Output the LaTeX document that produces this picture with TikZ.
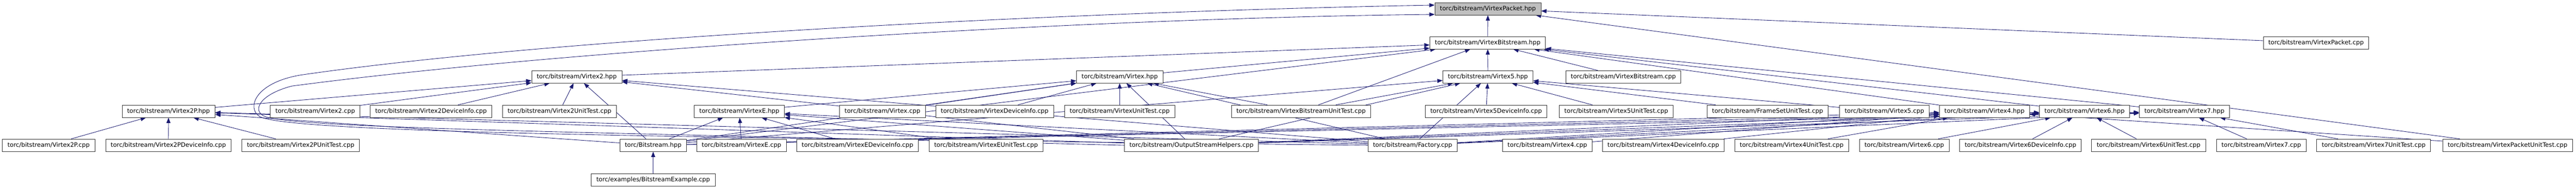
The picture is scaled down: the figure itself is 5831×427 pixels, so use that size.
\documentclass[tikz,border=0pt]{standalone}
\usepackage{fontspec}
\setmainfont{DejaVu Sans}
\usetikzlibrary{arrows.meta,backgrounds}

\begin{document}
\begin{tikzpicture}
		% We need to define the drawing style
		[x=1pt, y=-1pt,
		file/.style={draw=black!80, line width=1pt, fill=white, minimum height=28pt,
			inner xsep=11.5pt, inner ysep=0pt, font=\fontsize{13.7}{16}\selectfont},
		root/.style={file, fill=black!25},
		incl/.style={draw={rgb,255:red,25;green,25;blue,112}, line width=1pt,
			-{Triangle[length=12pt,width=9pt]}}]

		\useasboundingbox (0,0) rectangle (5831,427);

		% First the root header and the files above the rows
		\node[root] (VPh) at (3368,20) {torc/bitstream/VirtexPacket.hpp};
		\node[file] (VBh) at (3367.5,97) {torc/bitstream/VirtexBitstream.hpp};
		\node[file] (VPc) at (5242.5,97) {torc/bitstream/VirtexPacket.cpp};
		\node[file] (V2h) at (1305.5,174) {torc/bitstream/Virtex2.hpp};
		\node[file] (Vh) at (2534.5,174) {torc/bitstream/Virtex.hpp};
		\node[file] (V5h) at (3368,174) {torc/bitstream/Virtex5.hpp};
		\node[file] (VBc) at (3674.5,174) {torc/bitstream/VirtexBitstream.cpp};

		% Third row
		\node[file] (V2Ph) at (381.5,252) {torc/bitstream/Virtex2P.hpp};
		\node[file] (V2c) at (713.5,252) {torc/bitstream/Virtex2.cpp};
		\node[file] (V2D) at (975.5,252) {torc/bitstream/Virtex2DeviceInfo.cpp};
		\node[file] (V2U) at (1266.5,252) {torc/bitstream/Virtex2UnitTest.cpp};
		\node[file] (VEh) at (1673.5,252) {torc/bitstream/VirtexE.hpp};
		\node[file] (Vc) at (1997.5,252) {torc/bitstream/Virtex.cpp};
		\node[file] (VD) at (2251.5,252) {torc/bitstream/VirtexDeviceInfo.cpp};
		\node[file] (VU) at (2534.5,252) {torc/bitstream/VirtexUnitTest.cpp};
		\node[file] (VBU) at (2945,252) {torc/bitstream/VirtexBitstreamUnitTest.cpp};
		\node[file] (V5D) at (3364,252) {torc/bitstream/Virtex5DeviceInfo.cpp};
		\node[file] (V5U) at (3658.5,252) {torc/bitstream/Virtex5UnitTest.cpp};
		\node[file] (FSU) at (4001,252) {torc/bitstream/FrameSetUnitTest.cpp};
		\node[file] (V5c) at (4265.5,252) {torc/bitstream/Virtex5.cpp};
		\node[file] (V4h) at (4492,252) {torc/bitstream/Virtex4.hpp};
		\node[file] (V6h) at (4718.5,252) {torc/bitstream/Virtex6.hpp};
		\node[file] (V7h) at (4944.5,252) {torc/bitstream/Virtex7.hpp};

		% Fourth row
		\node[file] (V2Pc) at (110,329) {torc/bitstream/Virtex2P.cpp};
		\node[file] (V2PD) at (381,329) {torc/bitstream/Virtex2PDeviceInfo.cpp};
		\node[file] (V2PU) at (680.5,329) {torc/bitstream/Virtex2PUnitTest.cpp};
		\node[file] (Bh) at (1478.5,329) {torc/Bitstream.hpp};
		\node[file] (VEc) at (1678.5,329) {torc/bitstream/VirtexE.cpp};
		\node[file] (VED) at (1941,329) {torc/bitstream/VirtexEDeviceInfo.cpp};
		\node[file] (VEU) at (2232,329) {torc/bitstream/VirtexEUnitTest.cpp};
		\node[file] (OSH) at (2697,329) {torc/bitstream/OutputStreamHelpers.cpp};
		\node[file] (Fac) at (3197.5,329) {torc/bitstream/Factory.cpp};
		\node[file] (V4c) at (3502.5,329) {torc/bitstream/Virtex4.cpp};
		\node[file] (V4D) at (3765,329) {torc/bitstream/Virtex4DeviceInfo.cpp};
		\node[file] (V4U) at (4055.5,329) {torc/bitstream/Virtex4UnitTest.cpp};
		\node[file] (V6c) at (4310.5,329) {torc/bitstream/Virtex6.cpp};
		\node[file] (V6D) at (4573.5,329) {torc/bitstream/Virtex6DeviceInfo.cpp};
		\node[file] (V6U) at (4863.5,329) {torc/bitstream/Virtex6UnitTest.cpp};
		\node[file] (V7c) at (5118.5,329) {torc/bitstream/Virtex7.cpp};
		\node[file] (V7U) at (5373,329) {torc/bitstream/Virtex7UnitTest.cpp};
		\node[file] (VPU) at (5676,329) {torc/bitstream/VirtexPacketUnitTest.cpp};

		% The example at the bottom
		\node[file] (BEx) at (1478.5,407) {torc/examples/BitstreamExample.cpp};

		% Edges go behind the boxes
		\begin{scope}[on background layer]
			\fill[white] (0,0) rectangle (5831,427);

			\foreach \s in {VBh,VPc,VPU} \draw[incl] (\s) -- (VPh);
			% Take care of the two long loops round the left
			\draw[incl] (OSH.west) .. controls (1400,300) and (680,292) .. (600,264)
				.. controls (570,252) and (585,215) .. (660,195)
				.. controls (1300,110) and (2500,40) .. (VPh.186);
			\draw[incl] (Fac.west) .. controls (1600,312) and (660,302) .. (588,264)
				.. controls (558,246) and (575,188) .. (680,170)
				.. controls (1300,80) and (2500,25) .. (VPh.176);

			\foreach \s in {V2h,Bh,Vh,VBU,V5h,V4h,VBc,V6h,V7h} \draw[incl] (\s) -- (VBh);
			\foreach \s in {V2Ph,V2c,V2D,V2U,Bh,OSH,Fac} \draw[incl] (\s) -- (V2h);
			\foreach \s in {V2Pc,V2PD,V2PU,Bh,OSH,Fac} \draw[incl] (\s) -- (V2Ph);
			\foreach \s in {VEc,VED,VEU,Bh,OSH,Fac} \draw[incl] (\s) -- (VEh);
			\foreach \s in {VEh,Vc,VD,VU,Bh,OSH,Fac,VBU} \draw[incl] (\s) -- (Vh);
			\foreach \s in {VBU,Bh,OSH,V5D,V5U,V5c,FSU,Fac} \draw[incl] (\s) -- (V5h);
			\foreach \s in {V4c,V4D,V4U,Bh,OSH,Fac,VPU} \draw[incl] (\s) -- (V4h);
			\foreach \s in {V6c,V6D,V6U,Bh,OSH,Fac} \draw[incl] (\s) -- (V6h);
			\foreach \s in {V7c,V7U,Bh,OSH,Fac} \draw[incl] (\s) -- (V7h);
			\draw[incl] (BEx) -- (Bh);
		\end{scope}
	\end{tikzpicture}
\end{document}
